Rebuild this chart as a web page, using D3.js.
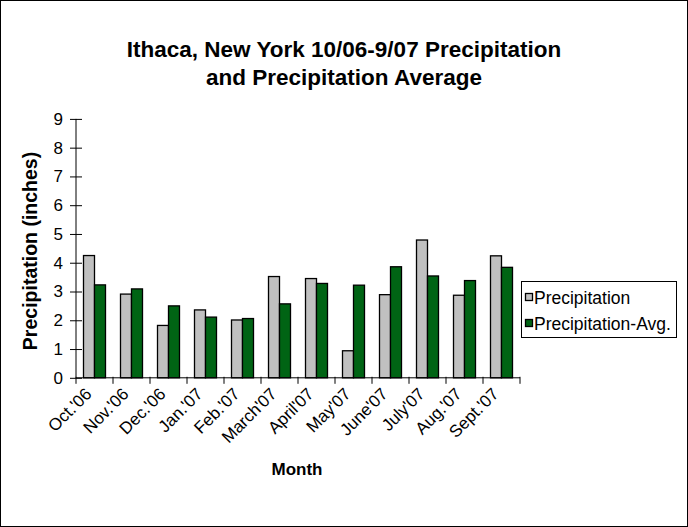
<!DOCTYPE html>
<html><head><meta charset="utf-8">
<script src="https://cdn.jsdelivr.net/npm/d3@7"></script>
<style>body{margin:0;background:#fff}svg{display:block;font-family:Arial,"Liberation Sans",sans-serif}</style>
</head><body><svg id="c" width="688" height="527"></svg>
<script>
const months = ["Oct.'06","Nov.'06","Dec.'06","Jan.'07","Feb.'07","March'07","April'07","May'07","June'07","July'07","Aug.'07","Sept.'07"];
const precip = [4.25,2.91,1.82,2.36,2.01,3.52,3.45,0.94,2.89,4.79,2.87,4.24];
const precipAvg = [3.23,3.09,2.50,2.11,2.06,2.57,3.28,3.22,3.86,3.54,3.38,3.84];
const yTicks = [0,1,2,3,4,5,6,7,8,9];
const seriesNames = ["Precipitation","Precipitation-Avg."];
const colors = ["#c0c0c0","#006414"];

const svg = d3.select("#c");
svg.append("rect").attr("x",0.5).attr("y",0.5).attr("width",687).attr("height",526).attr("fill","#fff").attr("stroke","#000");

const x0 = 76, x1 = 520, yb = 377.8, yt = 118.9;
const x = d3.scaleBand().domain(months).range([x0,x1]).paddingInner(0).paddingOuter(0);
const y = d3.scaleLinear().domain([0,9]).range([yb,yt]);
const bw = 11;

const data = months.map((m,i)=>({m, vals:[precip[i],precipAvg[i]]}));
const g = svg.append("g");
data.forEach(d=>{
  d.vals.forEach((v,k)=>{
    const cx = x(d.m) + x.bandwidth()/2 - bw + k*bw;
    g.append("rect").attr("x",cx).attr("y",y(v)).attr("width",bw).attr("height",yb-y(v))
      .attr("fill",colors[k]).attr("stroke","#000").attr("stroke-width",1.3);
  });
});

// y axis
const ya = svg.append("g").attr("transform",`translate(${x0},0)`)
  .call(d3.axisLeft(y).tickValues(yTicks).tickSize(6).tickPadding(7).tickFormat(d3.format("d")));
ya.selectAll(".tick line").attr("x2",6).attr("x1",-6).attr("stroke","#000");
ya.select(".domain").attr("d",`M0,${yt}V${yb}`).attr("stroke","#000");
ya.selectAll("text").attr("font-size",17).attr("font-family","Arial, 'Liberation Sans', sans-serif").attr("fill","#000");

// x axis
const xa = svg.append("g").attr("transform",`translate(0,${yb})`);
xa.append("line").attr("x1",x0).attr("x2",x1).attr("stroke","#000");
const xt = months.map(m=>x(m)).concat([x1]);
xa.selectAll("line.t").data(xt).enter().append("line").attr("class","t")
  .attr("x1",d=>d).attr("x2",d=>d).attr("y1",-1).attr("y2",6).attr("stroke","#000");
xa.selectAll("text").data(months).enter().append("text")
  .attr("transform",d=>`translate(${x(d)+x.bandwidth()/2-6},${13}) rotate(-45)`)
  .attr("text-anchor","end").attr("font-size",17).attr("fill","#000").attr("dy","0.35em").text(d=>d);

// titles
svg.append("text").attr("x",344).attr("y",57).attr("text-anchor","middle").attr("font-size",22.5).attr("font-weight","bold").text("Ithaca, New York 10/06-9/07 Precipitation");
svg.append("text").attr("x",344).attr("y",85).attr("text-anchor","middle").attr("font-size",22.5).attr("font-weight","bold").text("and Precipitation Average");
svg.append("text").attr("transform","translate(37,251) rotate(-90)").attr("text-anchor","middle").attr("font-size",19.5).attr("font-weight","bold").text("Precipitation (inches)");
svg.append("text").attr("x",297).attr("y",475).attr("text-anchor","middle").attr("font-size",17).attr("font-weight","bold").text("Month");

// legend
const lg = svg.append("g");
lg.append("rect").attr("x",521.5).attr("y",281.5).attr("width",155).attr("height",56).attr("fill","#fff").attr("stroke","#000");
seriesNames.forEach((s,k)=>{
  const yy = 293 + k*26;
  lg.append("rect").attr("x",525.5).attr("y",yy+0.5).attr("width",7).attr("height",7).attr("fill",colors[k]).attr("stroke","#000").attr("stroke-width",1.3);
  lg.append("text").attr("x",534).attr("y",yy+11).attr("font-size",17.5).attr("fill","#000").text(s);
});
</script></body></html>
